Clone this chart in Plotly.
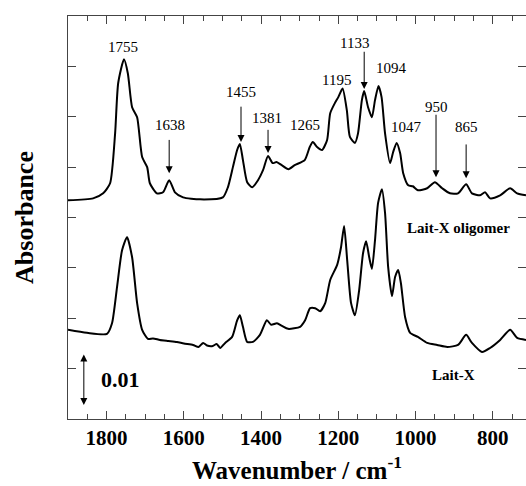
import plotly.graph_objects as go

# ---- data ----
wn_oligomer = [1900, 1835, 1809, 1791, 1778, 1770, 1755, 1745, 1734, 1721, 1708, 1695, 1688, 1670,
               1654, 1638, 1623, 1602, 1558, 1499, 1486, 1473, 1462, 1455, 1447, 1436, 1423, 1408,
               1395, 1382, 1370, 1360, 1347, 1329, 1313, 1287, 1274, 1266, 1255, 1242, 1229, 1221,
               1209, 1200, 1189, 1178, 1170, 1157, 1149, 1139, 1133, 1123, 1113, 1105, 1096, 1088,
               1079, 1066, 1058, 1049, 1040, 1032, 1019, 1007, 994, 970, 950, 931, 911, 890, 869,
               854, 833, 820, 807, 781, 755, 737, 714]
abs_oligomer = [0.0434, 0.0438, 0.0448, 0.0468, 0.0567, 0.0667, 0.0714, 0.0686, 0.0619, 0.0599,
                0.0520, 0.0500, 0.0468, 0.0448, 0.0450, 0.0474, 0.0450, 0.0440, 0.0436, 0.0440,
                0.0460, 0.0500, 0.0534, 0.0546, 0.0514, 0.0470, 0.0460, 0.0474, 0.0494, 0.0522,
                0.0508, 0.0510, 0.0504, 0.0496, 0.0504, 0.0514, 0.0540, 0.0550, 0.0540, 0.0534,
                0.0554, 0.0607, 0.0627, 0.0639, 0.0656, 0.0613, 0.0560, 0.0548, 0.0567, 0.0633,
                0.0651, 0.0619, 0.0599, 0.0633, 0.0661, 0.0639, 0.0567, 0.0508, 0.0530, 0.0548,
                0.0528, 0.0488, 0.0464, 0.0462, 0.0454, 0.0458, 0.0470, 0.0458, 0.0448, 0.0448,
                0.0466, 0.0448, 0.0444, 0.0450, 0.0438, 0.0444, 0.0458, 0.0448, 0.0444]

wn_laitx = [1900, 1851, 1799, 1786, 1773, 1760, 1747, 1734, 1721, 1708, 1693, 1680, 1662, 1640,
            1618, 1600, 1576, 1562, 1550, 1540, 1525, 1515, 1506, 1493, 1475, 1462, 1455, 1447,
            1436, 1421, 1403, 1385, 1374, 1359, 1346, 1330, 1299, 1286, 1273, 1260, 1247, 1234,
            1221, 1203, 1193, 1185, 1177, 1167, 1157, 1146, 1136, 1128, 1120, 1113, 1105, 1097,
            1087, 1079, 1071, 1061, 1053, 1045, 1038, 1027, 1014, 994, 970, 944, 918, 890, 869,
            854, 828, 807, 781, 755, 737, 714]
abs_laitx = [0.0177, 0.0171, 0.0169, 0.0190, 0.0262, 0.0335, 0.0361, 0.0321, 0.0230, 0.0177,
             0.0159, 0.0160, 0.0157, 0.0155, 0.0153, 0.0150, 0.0147, 0.0143, 0.0151, 0.0146,
             0.0145, 0.0149, 0.0141, 0.0151, 0.0163, 0.0196, 0.0206, 0.0183, 0.0153, 0.0153,
             0.0167, 0.0196, 0.0187, 0.0190, 0.0185, 0.0179, 0.0183, 0.0196, 0.0220, 0.0220,
             0.0214, 0.0230, 0.0276, 0.0306, 0.0341, 0.0383, 0.0315, 0.0230, 0.0206, 0.0256,
             0.0329, 0.0353, 0.0321, 0.0298, 0.0355, 0.0429, 0.0456, 0.0409, 0.0302, 0.0244,
             0.0282, 0.0296, 0.0270, 0.0202, 0.0171, 0.0163, 0.0151, 0.0147, 0.0143, 0.0147,
             0.0167, 0.0151, 0.0133, 0.0141, 0.0157, 0.0177, 0.0161, 0.0157]

x_ticks = [1800, 1600, 1400, 1200, 1000, 800]

# peak labels: (text, x, y) and arrows (x, tip y, tail y)
peak_labels = [("1755", 1757, 0.0738), ("1638", 1636, 0.0583), ("1455", 1452, 0.0649),
               ("1381", 1385, 0.0597), ("1265", 1286, 0.0583), ("1195", 1206, 0.0673),
               ("1133", 1157, 0.0746), ("1094", 1063, 0.0696), ("1047", 1024, 0.0579),
               ("950", 947, 0.0619), ("865", 869, 0.0579)]
peak_arrows = [(1638, 0.0488, 0.0557), (1452, 0.0550, 0.0623), (1382, 0.0528, 0.0577),
               (1133, 0.0655, 0.0732), (947, 0.0480, 0.0607), (869, 0.0478, 0.0548)]

SERIF = "Liberation Serif"

fig = go.Figure()
for xs, ys in [(wn_oligomer, abs_oligomer), (wn_laitx, abs_laitx)]:
    fig.add_trace(go.Scatter(x=xs, y=ys, mode="lines",
                             line=dict(color="black", width=2, shape="spline", smoothing=0.6),
                             showlegend=False, hoverinfo="skip"))

anns = []
for t, x, y in peak_labels:
    anns.append(dict(x=x, y=y, xref="x", yref="y", text=t, showarrow=False,
                     font=dict(family=SERIF, size=15, color="black")))
for x, tip, tail in peak_arrows:
    anns.append(dict(x=x, y=tip, ax=x, ay=tail, xref="x", yref="y", axref="x", ayref="y",
                     text="", showarrow=True, arrowhead=2, arrowsize=1.4, arrowwidth=1,
                     arrowcolor="black", standoff=0, startstandoff=0))
anns.append(dict(x=890, y=0.0379, xref="x", yref="y", text="Lait-X oligomer", showarrow=False,
                 font=dict(family=SERIF, size=15, color="black", weight="bold")))
anns.append(dict(x=903, y=0.0087, xref="x", yref="y", text="Lait-X", showarrow=False,
                 font=dict(family=SERIF, size=15, color="black", weight="bold")))
anns.append(dict(x=1765, y=0.0079, xref="x", yref="y", text="0.01", showarrow=False,
                 font=dict(family=SERIF, size=22, color="black", weight="bold")))
anns.append(dict(x=1859, y=0.0028, ax=1859, ay=0.0131, xref="x", yref="y", axref="x", ayref="y",
                 text="", showarrow=True, arrowhead=2, arrowside="end+start", arrowsize=1.4,
                 arrowwidth=1, arrowcolor="black", standoff=0, startstandoff=0))
# x-axis title as a paper-anchored annotation
anns.append(dict(x=0.5, y=-0.166, xref="paper", yref="paper", xanchor="center", yanchor="bottom",
                 text="Wavenumber / cm<sup>-1</sup>", showarrow=False,
                 font=dict(family=SERIF, size=25, color="black", weight="bold")))

fig.update_layout(
    width=526, height=486,
    margin=dict(l=68, r=0, t=16, b=67),
    paper_bgcolor="white", plot_bgcolor="white",
    annotations=anns,
    xaxis=dict(range=[1900, 714], tickvals=x_ticks, ticktext=[str(v) for v in x_ticks],
               ticks="inside", ticklen=8, tickwidth=1, tickcolor="#444",
               minor=dict(dtick=50, tick0=0, ticks="inside", ticklen=5, tickcolor="#444", showgrid=False),
               showline=True, linecolor="#444", linewidth=1, mirror="ticks",
               showgrid=False, zeroline=False,
               tickfont=dict(family=SERIF, size=21, color="black", weight="bold")),
    yaxis=dict(range=[0, 0.08], dtick=0.01, tick0=0, showticklabels=False,
               ticks="inside", ticklen=8, tickwidth=1, tickcolor="#444",
               showline=True, linecolor="#444", linewidth=1, mirror="ticks",
               showgrid=False, zeroline=False,
               title=dict(text="Absorbance", standoff=25,
                          font=dict(family=SERIF, size=26, color="black", weight="bold"))),
)

fig.write_html("out.html")
